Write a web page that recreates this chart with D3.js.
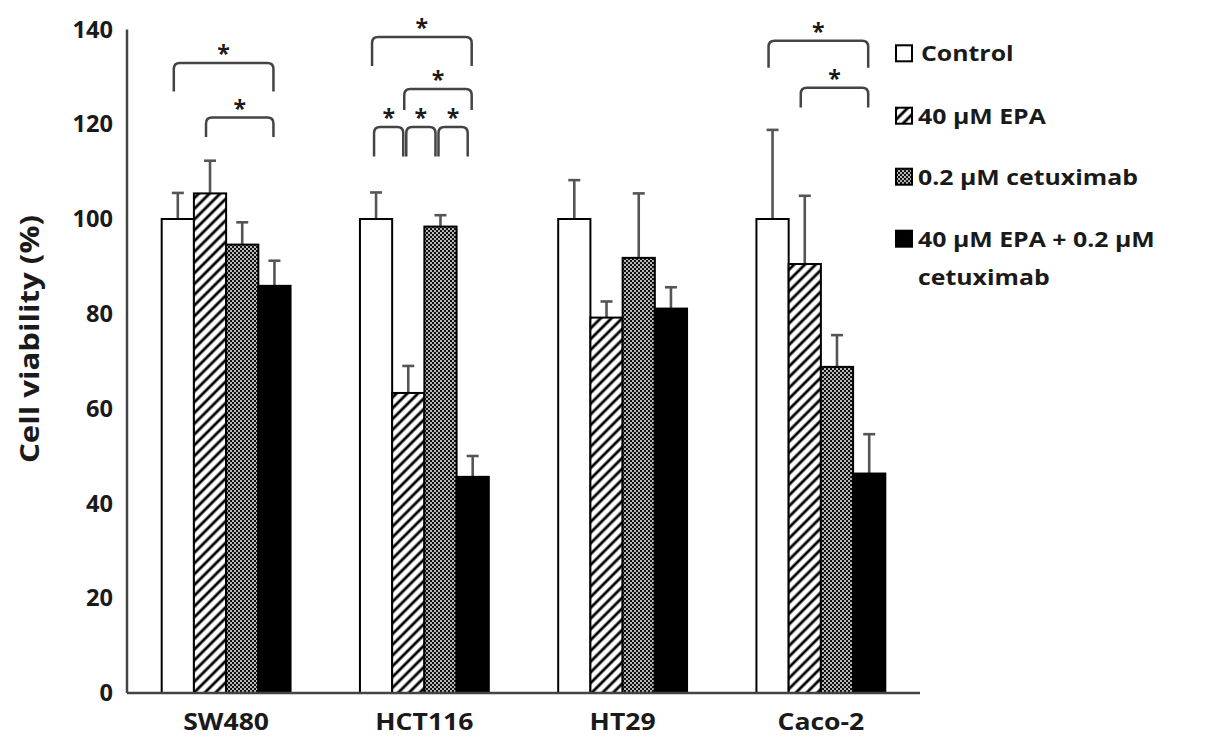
<!DOCTYPE html>
<html>
<head>
<meta charset="utf-8">
<script src="https://cdn.jsdelivr.net/npm/d3@7"></script>
<style>
  body { margin: 0; background: #fff; }
  text { font-family: "Open Sans", sans-serif; font-weight: bold; fill: #1a1a1a; }
</style>
</head>
<body>
<div id="chart"></div>
<script>
const cellLines = ["SW480", "HCT116", "HT29", "Caco-2"];
const treatments = ["Control", "40 µM EPA", "0.2 µM cetuximab", "40 µM EPA + 0.2 µM cetuximab"];

// mean viability (%) per cell line, in treatment order
const means = {
  "SW480": [100, 105.4, 94.6, 85.9],
  "HCT116": [100, 63.3, 98.4, 45.6],
  "HT29": [100, 79.2, 91.8, 81.1],
  "Caco-2": [100, 90.5, 68.8, 46.3]
};
// upper error (SD) per cell line
const errors = {
  "SW480": [5.5, 6.9, 4.7, 5.3],
  "HCT116": [5.6, 5.7, 2.4, 4.4],
  "HT29": [8.2, 3.4, 13.6, 4.5],
  "Caco-2": [18.8, 14.4, 6.7, 8.3]
};

const yTicks = [0, 20, 40, 60, 80, 100, 120, 140];

// significance brackets: cell line, from/to treatment index, top and leg bottom (%)
const brackets = [
  { line: "SW480", from: 0, to: 3, top: 132.9, bottom: 126.9 },
  { line: "SW480", from: 1, to: 3, top: 121.4, bottom: 117.3 },
  { line: "HCT116", from: 0, to: 3, top: 138.4, bottom: 132.3 },
  { line: "HCT116", from: 1, to: 3, top: 127.4, bottom: 123.0 },
  { line: "HCT116", from: 0, to: 1, top: 119.4, bottom: 113.2 },
  { line: "HCT116", from: 1, to: 2, top: 119.4, bottom: 113.2 },
  { line: "HCT116", from: 2, to: 3, top: 119.4, bottom: 113.2 },
  { line: "Caco-2", from: 0, to: 3, top: 137.6, bottom: 131.9 },
  { line: "Caco-2", from: 1, to: 3, top: 127.7, bottom: 123.5 }
];

const width = 1205, height = 744;
const plot = { left: 127, right: 920, top: 29.4, bottom: 693 };
const sx = 1.13; // horizontal stretch of the text in the reference

const svg = d3.select("#chart").append("svg")
  .attr("width", width).attr("height", height);

const defs = svg.append("defs");
const hatch = defs.append("pattern")
  .attr("id", "hatch").attr("patternUnits", "userSpaceOnUse")
  .attr("width", 7.6).attr("height", 7.6)
  .attr("patternTransform", "rotate(45)");
hatch.append("rect").attr("width", 7.6).attr("height", 7.6).attr("fill", "#fff");
hatch.append("line").attr("x1", 3.8).attr("x2", 3.8).attr("y1", 0).attr("y2", 7.6)
  .attr("stroke", "#000").attr("stroke-width", 2.8);

const dots = defs.append("pattern")
  .attr("id", "dots").attr("patternUnits", "userSpaceOnUse")
  .attr("width", 4).attr("height", 4);
dots.append("rect").attr("width", 4).attr("height", 4).attr("fill", "#111");
dots.append("circle").attr("cx", 1).attr("cy", 1).attr("r", 0.95).attr("fill", "#fff");
dots.append("circle").attr("cx", 3).attr("cy", 3).attr("r", 0.95).attr("fill", "#fff");

const fills = ["#fff", "url(#hatch)", "url(#dots)", "#000"];

const x0 = d3.scaleBand().domain(cellLines)
  .range([plot.left, plot.right]).paddingInner(0.35).paddingOuter(0.175);
const x1 = d3.scaleBand().domain(d3.range(treatments.length))
  .range([0, x0.bandwidth()]);
const y = d3.scaleLinear().domain([0, 140]).range([plot.bottom, plot.top]);

const barCenter = (line, i) => x0(line) + x1(i) + x1.bandwidth() / 2;

// bars
const groups = svg.append("g").selectAll("g")
  .data(cellLines).enter().append("g");

groups.selectAll("line.err")
  .data((line) => means[line].map((m, i) => ({ line, i, m, e: errors[line][i] })))
  .enter().append("g")
  .each(function (d) {
    const g = d3.select(this);
    const cx = barCenter(d.line, d.i);
    g.append("line").attr("x1", cx).attr("x2", cx)
      .attr("y1", y(d.m)).attr("y2", y(d.m + d.e))
      .attr("stroke", "#555").attr("stroke-width", 2.6);
    g.append("line").attr("x1", cx - 6).attr("x2", cx + 6)
      .attr("y1", y(d.m + d.e)).attr("y2", y(d.m + d.e))
      .attr("stroke", "#555").attr("stroke-width", 2.6);
  });

groups.selectAll("rect")
  .data((line) => means[line].map((m, i) => ({ line, i, m })))
  .enter().append("rect")
  .attr("x", (d) => x0(d.line) + x1(d.i))
  .attr("width", x1.bandwidth())
  .attr("y", (d) => y(d.m))
  .attr("height", (d) => y(0) - y(d.m))
  .attr("fill", (d) => fills[d.i])
  .attr("stroke", "#000").attr("stroke-width", 2);

// axes
svg.append("line").attr("x1", plot.left).attr("x2", plot.left)
  .attr("y1", y(0)).attr("y2", y(140))
  .attr("stroke", "#444").attr("stroke-width", 2.5);
svg.append("line").attr("x1", plot.left).attr("x2", plot.right)
  .attr("y1", y(0)).attr("y2", y(0))
  .attr("stroke", "#444").attr("stroke-width", 2.5);

svg.append("g").selectAll("text")
  .data(yTicks).enter().append("text")
  .attr("transform", (d) => `translate(113,${y(d)}) scale(1.05,1)`)
  .attr("text-anchor", "end").attr("dy", "0.36em")
  .attr("font-size", 22.5)
  .text((d) => d);

svg.append("g").selectAll("text")
  .data(cellLines).enter().append("text")
  .attr("transform", (d) => `translate(${x0(d) + x0.bandwidth() / 2},730) scale(${sx},1)`)
  .attr("text-anchor", "middle")
  .attr("font-size", 23.5)
  .text((d) => d);

svg.append("text")
  .attr("transform", "translate(39,339) rotate(-90)")
  .attr("text-anchor", "middle")
  .attr("font-size", 27)
  .attr("textLength", 248).attr("lengthAdjust", "spacingAndGlyphs")
  .text("Cell viability (%)");

// significance brackets
const r = 6;
const bg = svg.append("g");
brackets.forEach((b) => {
  const adjacent = b.to - b.from === 1;
  const xa = barCenter(b.line, b.from) - (adjacent ? 2 : 4);
  const xb = barCenter(b.line, b.to) - (adjacent ? 5 : 1);
  const yt = y(b.top), yb = y(b.bottom);
  bg.append("path")
    .attr("d", `M${xa},${yb} V${yt + r} Q${xa},${yt} ${xa + r},${yt} H${xb - r} Q${xb},${yt} ${xb},${yt + r} V${yb}`)
    .attr("fill", "none").attr("stroke", "#444").attr("stroke-width", 2.5);
  bg.append("text")
    .attr("x", (xa + xb) / 2).attr("y", yt - 1)
    .attr("text-anchor", "middle")
    .attr("font-size", 23)
    .text("*");
});

// legend
const legendRows = [53.3, 115.7, 176.7, 238.7];
const legend = svg.append("g");
treatments.forEach((t, i) => {
  const cy = legendRows[i];
  legend.append("rect")
    .attr("x", 896).attr("y", cy - 8).attr("width", 16).attr("height", 16)
    .attr("fill", fills[i]).attr("stroke", "#000").attr("stroke-width", 2);
  const lines = i === 3 ? ["40 µM EPA + 0.2 µM", "cetuximab"] : [t];
  lines.forEach((txt, k) => {
    legend.append("text")
      .attr("transform", `translate(${i === 0 ? 921 : 918},${cy + k * 38}) scale(${sx},1)`)
      .attr("dy", "0.36em")
      .attr("font-size", 22)
      .text(txt);
  });
});
</script>
</body>
</html>
